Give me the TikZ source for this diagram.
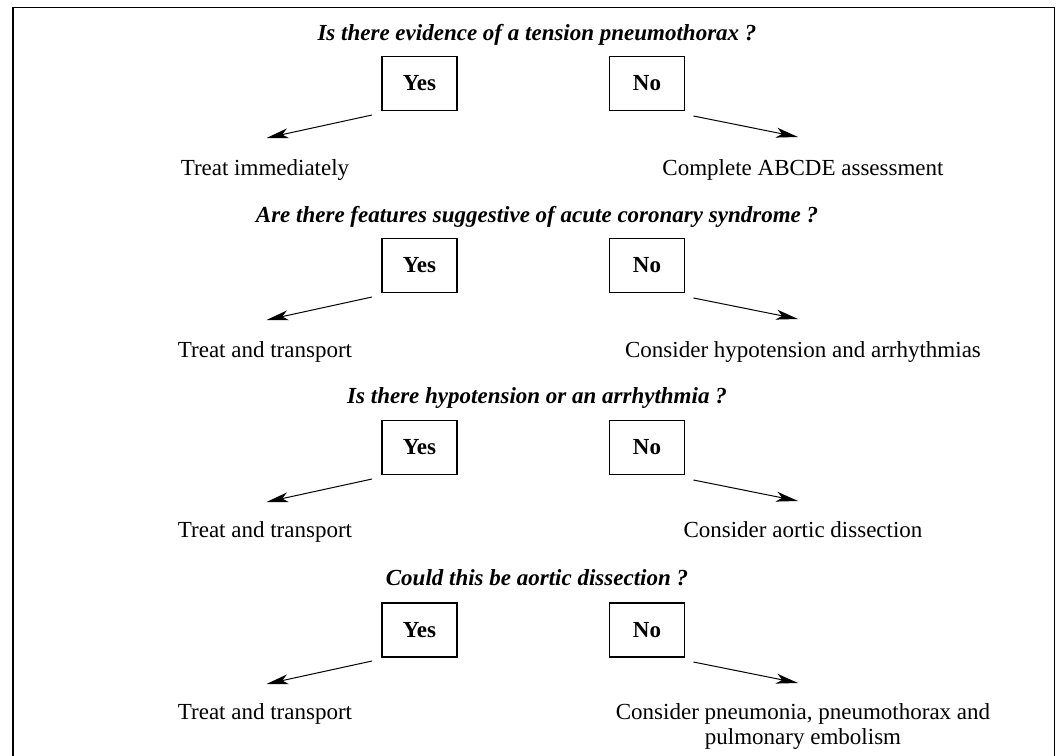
\documentclass[tikz,border=0pt]{standalone}
\usepackage{fontspec}
\setmainfont{Liberation Serif}
\usetikzlibrary{arrows.meta}
\begin{document}
\begin{tikzpicture}[x=0.5pt,y=-0.5pt,
  every node/.style={inner sep=0pt, outer sep=0pt},
  question/.style={anchor=base, font=\fontsize{11.5}{12.5}\selectfont\bfseries\itshape},
  answer/.style={draw, line width=0.6pt, minimum width=37.5pt, minimum height=27pt, font=\fontsize{11.5}{12.5}\selectfont\bfseries},
  outcome/.style={anchor=base, align=center, font=\fontsize{11.5}{12.5}\selectfont},
  link/.style={line width=0.5pt, -{Stealth[length=11pt,width=5pt,inset=3pt]}},
  frame/.style={line width=0.6pt}
]
\useasboundingbox (0,0) rectangle (1058,755);
\coordinate (fbl) at (13,756);
\coordinate (ftl) at (13,7.5);
\coordinate (ftr) at (1054.5,7.5);
\coordinate (fbr) at (1054.5,756);
\draw[frame] (fbl) -- (ftl) -- (ftr) -- (fbr);

% Row 1
\node[question] (q1) at (537,40) {Is there evidence of a tension pneumothorax ?};
\node[answer] (y1) at (419.5,83.5) {Yes};
\node[answer] (n1) at (647,83.5) {No};
\node[outcome] (ly1) at (265,175) {Treat immediately};
\node[outcome] (ln1) at (803,175) {Complete ABCDE assessment};
\coordinate (ys1) at (372,115); \coordinate (yt1) at (266.5,138);
\coordinate (ns1) at (693.5,116); \coordinate (nt1) at (798,137);
\draw[link] (ys1) -- (yt1);
\draw[link] (ns1) -- (nt1);

% Row 2
\node[question] (q2) at (537,222) {Are there features suggestive of acute coronary syndrome ?};
\node[answer] (y2) at (419.5,265.5) {Yes};
\node[answer] (n2) at (647,265.5) {No};
\node[outcome] (ly2) at (265,357) {Treat and transport};
\node[outcome] (ln2) at (803,357) {Consider hypotension and arrhythmias};
\coordinate (ys2) at (372,297); \coordinate (yt2) at (266.5,320);
\coordinate (ns2) at (693.5,298); \coordinate (nt2) at (798,319);
\draw[link] (ys2) -- (yt2);
\draw[link] (ns2) -- (nt2);

% Row 3
\node[question] (q3) at (537,403) {Is there hypotension or an arrhythmia ?};
\node[answer] (y3) at (419.5,447.5) {Yes};
\node[answer] (n3) at (647,447.5) {No};
\node[outcome] (ly3) at (265,537) {Treat and transport};
\node[outcome] (ln3) at (803,537) {Consider aortic dissection};
\coordinate (ys3) at (372,479); \coordinate (yt3) at (266.5,502);
\coordinate (ns3) at (693.5,480); \coordinate (nt3) at (798,501);
\draw[link] (ys3) -- (yt3);
\draw[link] (ns3) -- (nt3);

% Row 4
\node[question] (q4) at (537,585) {Could this be aortic dissection ?};
\node[answer] (y4) at (419.5,630) {Yes};
\node[answer] (n4) at (647,630) {No};
\node[outcome] (ly4) at (265,719) {Treat and transport};
\node[outcome] (ln4) at (803,744) {Consider pneumonia, pneumothorax and\\pulmonary embolism};
\coordinate (ys4) at (372,661); \coordinate (yt4) at (266.5,684);
\coordinate (ns4) at (693.5,662); \coordinate (nt4) at (798,683);
\draw[link] (ys4) -- (yt4);
\draw[link] (ns4) -- (nt4);
\end{tikzpicture}
\end{document}
